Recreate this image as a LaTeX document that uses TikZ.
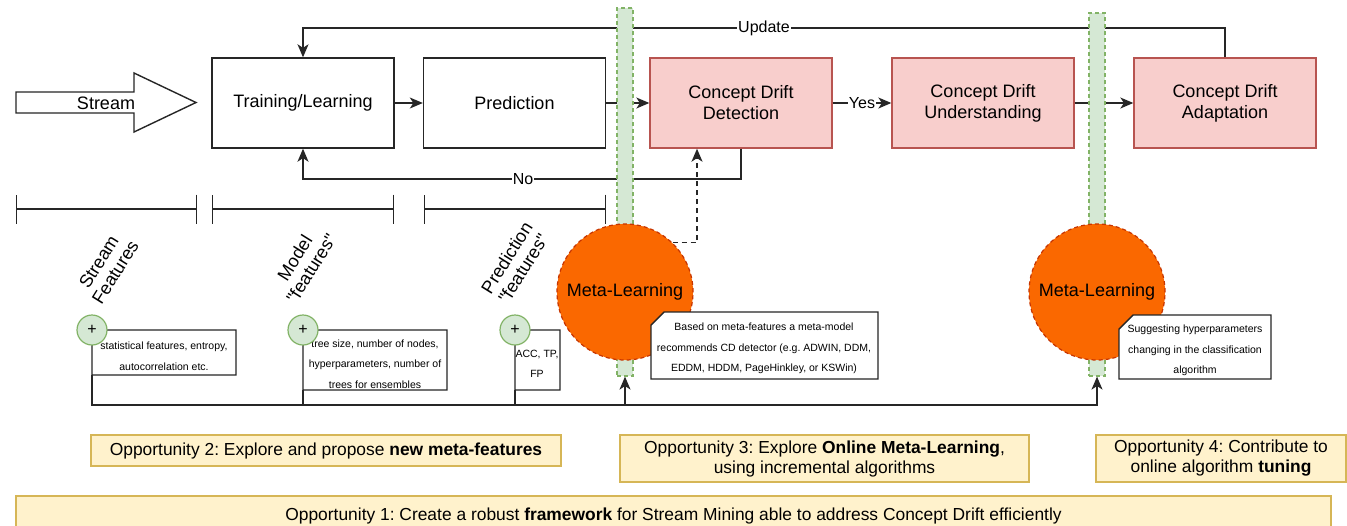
\documentclass[tikz,border=0pt]{standalone}
\usepackage{fontspec}
\setmainfont{Liberation Sans}
\usetikzlibrary{arrows.meta,calc}
\definecolor{pinkF}{HTML}{F8CECC}
\definecolor{pinkD}{HTML}{B85450}
\definecolor{greenF}{HTML}{D5E8D4}
\definecolor{greenD}{HTML}{82B366}
\definecolor{yelF}{HTML}{FFF2CC}
\definecolor{yelD}{HTML}{D6B656}
\definecolor{orgF}{HTML}{FA6800}
\definecolor{orgD}{HTML}{C73500}
\frenchspacing
\begin{document}
\begin{tikzpicture}[x=0.5pt,y=-0.5pt,
 line/.style={line width=0.7pt, draw=black!85},
 arr/.style={line, -{Stealth[length=6.5pt,width=5.5pt,inset=1.8pt]}},
 box/.style={draw=black!85, line width=0.7pt, minimum width=91pt, minimum height=45pt, inner sep=0pt, align=center, font=\fontsize{9}{10.5}\selectfont},
 pinkbox/.style={box, fill=pinkF, draw=pinkD},
 lbl/.style={fill=white, inner sep=0.5pt, font=\fontsize{8}{9.6}\selectfont},
 bar/.style={draw=greenD, fill=greenF, dash pattern=on 2pt off 1.5pt, line width=0.6pt, minimum width=8pt, inner sep=0pt},
 meta/.style={circle, draw=orgD, fill=orgF, dash pattern=on 2pt off 1.5pt, line width=0.6pt, minimum size=68pt, inner sep=0pt, font=\fontsize{9}{10.5}\selectfont},
 notebox/.style={draw=black!85, fill=white, line width=0.7pt},
 notetxt/.style={align=center, inner sep=0pt, font=\fontsize{5.25}{10.25}\selectfont},
 plus/.style={circle, draw=greenD, fill=greenF, line width=0.6pt, minimum size=15pt, inner sep=0pt, font=\fontsize{8}{8}\selectfont},
 opp/.style={draw=yelD, fill=yelF, line width=0.6pt, inner sep=0pt, align=center, font=\fontsize{8.7}{10}\selectfont},
 rot/.style={rotate=58, align=center, font=\fontsize{9}{9.8}\selectfont, inner sep=0pt},
 span/.style={line, {Bar[width=14.5pt]}-{Bar[width=14.5pt]}}
]
\useasboundingbox[fill=white] (0,0) rectangle (1347,525);

% stream arrow
\draw[line, fill=white] (16,92) -- (134,92) -- (134,73) -- (196,102.5) -- (134,132) -- (134,113) -- (16,113) -- cycle;
\node[font=\fontsize{9}{10.5}\selectfont, inner sep=0pt] (stream) at (106,103) {Stream};

% process boxes
\node[box] (train) at (303,103) {Training/Learning};
\node[box] (pred) at (514.5,103) {Prediction};
\node[pinkbox] (cdd) at (741,103) {Concept Drift\\Detection};
\node[pinkbox] (cdu) at (983,103) {Concept Drift\\Understanding};
\node[pinkbox] (cda) at (1225,103) {Concept Drift\\Adaptation};

% connectors
\draw[arr] (train) -- (pred);
\draw[arr] (pred) -- (cdd);
\draw[arr] (cdd) -- node[lbl]{Yes} (cdu);
\draw[arr] (cdu) -- (cda);
\coordinate (upc) at (303,28);
\draw[arr] (cda.north) |- (upc) -- (train.north);
\node[lbl] (updl) at (764,28) {Update};
\coordinate (noc) at (303,179);
\draw[arr] (cdd.south) |- (noc) -- (train.south);
\node[lbl] (nol) at (523,179) {No};

% spans
\draw[span] (16,209) -- (197,209);
\draw[span] (212,209) -- (394,209);
\draw[span] (424,209) -- (606,209);

% rotated labels
\node[rot] (sf) at (107,267) {Stream\\Features};
\node[rot] (mf) at (303,263) {Model\\\textquotedbl features\textquotedbl};
\node[rot] (pf) at (515,263) {Prediction\\\textquotedbl features\textquotedbl};

% bars
\node[bar, minimum height=184pt] (bar1) at (625,192) {};
\node[bar, minimum height=181.5pt] (bar2) at (1097,194.5) {};

% meta-learning circles
\node[meta] (ml1) at (625,292) {Meta-Learning};
\node[meta] (ml2) at (1097,292) {Meta-Learning};
\draw[arr, dash pattern=on 2.5pt off 2pt] (ml1.46) -| ([xshift=-22pt]cdd.south);

% notes
\coordinate (n1a) at (92,330); \coordinate (n1b) at (236,375);
\filldraw[notebox] ($(n1a)+(0,15)$) -- ($(n1a)+(15,0)$) -- (n1a -| n1b) -- (n1b) -- (n1a |- n1b) -- cycle;
\node[notetxt] (n1) at (164,356) {statistical features, entropy,\\autocorrelation etc.};
\node[plus] (p1) at (n1a) {+};

\coordinate (n2a) at (303,330); \coordinate (n2b) at (447,390);
\filldraw[notebox] ($(n2a)+(0,15)$) -- ($(n2a)+(15,0)$) -- (n2a -| n2b) -- (n2b) -- (n2a |- n2b) -- cycle;
\node[notetxt] (n2) at (375,364) {tree size, number of nodes,\\hyperparameters, number of\\trees for ensembles};
\node[plus] (p2) at (n2a) {+};

\coordinate (n3a) at (515,330); \coordinate (n3b) at (560,390);
\filldraw[notebox] ($(n3a)+(0,15)$) -- ($(n3a)+(15,0)$) -- (n3a -| n3b) -- (n3b) -- (n3a |- n3b) -- cycle;
\node[notetxt] (n3) at (537,364) {ACC, TP,\\FP};
\node[plus] (p3) at (n3a) {+};

\coordinate (n4a) at (651,312); \coordinate (n4b) at (878,379);
\filldraw[notebox] ($(n4a)+(0,13)$) -- ($(n4a)+(13,0)$) -- (n4a -| n4b) -- (n4b) -- (n4a |- n4b) -- cycle;
\node[notetxt] (n4) at (764,348.5) {Based on meta-features a meta-model\\recommends CD detector (e.g. ADWIN, DDM,\\EDDM, HDDM, PageHinkley, or KSWin)};

\coordinate (n5a) at (1119,315); \coordinate (n5b) at (1271,379);
\filldraw[notebox] ($(n5a)+(0,14)$) -- ($(n5a)+(14,0)$) -- (n5a -| n5b) -- (n5b) -- (n5a |- n5b) -- cycle;
\node[notetxt] (n5) at (1195,350.5) {Suggesting hyperparameters\\changing in the classification\\algorithm};

% bottom feed line
\coordinate (j1) at (625,405); \coordinate (j2) at (1097,405);
\draw[arr] (n1a |- n1b) |- (j2) -- (bar2.south);
\draw[line] (n2a |- n2b) -- (n2a |- j2);
\draw[line] (n3a |- n3b) -- (n3a |- j2);
\draw[arr] (j1) -- (bar1.south);

% opportunities
\node[opp, minimum width=235pt, minimum height=15.5pt] (o2) at (326,450.5) {Opportunity 2: Explore and propose \textbf{new meta-features}};
\node[opp, minimum width=204.5pt, minimum height=23.5pt] (o3) at (824.5,458.5) {Opportunity 3: Explore \textbf{Online Meta-Learning},\\using incremental algorithms};
\node[opp, minimum width=125pt, minimum height=23.5pt] (o4) at (1221,458.5) {Opportunity 4: Contribute to\\online algorithm \textbf{tuning}};
\begin{scope}
\clip (0,0) rectangle (1347,525);
\node[opp, minimum width=657.5pt, minimum height=19.5pt] (o1) at (673.5,515.5) {Opportunity 1: Create a robust \textbf{framework} for Stream Mining able to address Concept Drift efficiently};
\end{scope}
\end{tikzpicture}
\end{document}
